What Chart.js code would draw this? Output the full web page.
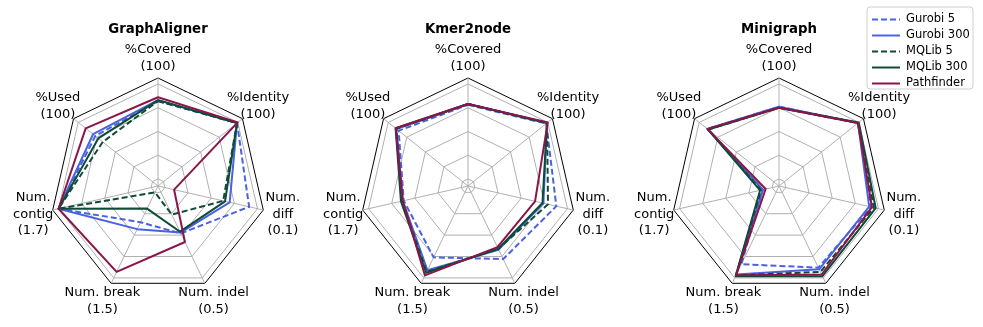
<!DOCTYPE html>
<html>
<head>
<meta charset="utf-8">
<script src="https://cdn.jsdelivr.net/npm/chart.js@4.4.1/dist/chart.umd.min.js"></script>
<style>
html,body{margin:0;padding:0;background:#fff;width:983px;height:327px;overflow:hidden;}
canvas{position:absolute;top:0;}
</style>
</head>
<body>
<canvas id="c1" width="310" height="327" style="left:3px"></canvas>
<canvas id="c2" width="310" height="327" style="left:313px"></canvas>
<canvas id="c3" width="359" height="327" style="left:624px"></canvas>
<script>
// ---- data ----
const axisLabels = [["%Covered","(100)"],["%Identity","(100)"],["Num.","diff","(0.1)"],["Num. indel","(0.5)"],["Num. break","(1.5)"],["Num.","contig","(1.7)"],["%Used","(100)"]];
const chartTitles = ["GraphAligner","Kmer2node","Minigraph"];
const seriesNames = ["Gurobi 5","Gurobi 300","MQLib 5","MQLib 300","Pathfinder"];
const ringTicks = [0, 0.25, 0.5, 0.75, 1.0];

const graphAlignerGurobi5   = [0.82, 0.99, 0.91, 0.48, 0.35, 1.00, 0.77];
const graphAlignerGurobi300 = [0.83, 0.99, 0.70, 0.47, 0.43, 1.00, 0.80];
const graphAlignerMQLib5    = [0.82, 0.99, 0.63, 0.26, 0.00, 1.00, 0.67];
const graphAlignerMQLib300  = [0.83, 0.99, 0.65, 0.46, 0.19, 1.00, 0.73];
const graphAlignerPathfinder= [0.86, 1.00, 0.10, 0.58, 0.93, 1.00, 0.90];

const kmer2nodeGurobi5   = [0.78, 0.98, 0.88, 0.78, 0.76, 0.62, 0.86];
const kmer2nodeGurobi300 = [0.79, 0.99, 0.74, 0.67, 0.91, 0.63, 0.89];
const kmer2nodeMQLib5    = [0.79, 0.99, 0.79, 0.66, 0.93, 0.64, 0.89];
const kmer2nodeMQLib300  = [0.79, 0.99, 0.73, 0.66, 0.94, 0.65, 0.90];
const kmer2nodePathfinder= [0.79, 1.00, 0.65, 0.64, 0.97, 0.63, 0.90];

const minigraphGurobi5   = [0.76, 0.99, 0.92, 0.88, 0.84, 0.10, 0.89];
const minigraphGurobi300 = [0.76, 0.99, 0.90, 0.90, 0.96, 0.10, 0.89];
const minigraphMQLib5    = [0.75, 0.99, 0.95, 0.93, 0.97, 0.12, 0.88];
const minigraphMQLib300  = [0.75, 1.00, 0.97, 0.98, 0.98, 0.13, 0.88];
const minigraphPathfinder= [0.75, 0.99, 0.93, 0.96, 0.97, 0.07, 0.89];

// ---- styles ----
const BLUE = '#4b62e0', GREEN = '#0e4b38', RED = '#8b1549';
const seriesStyle = [
  {color: BLUE, dash: [6, 3]},
  {color: BLUE, dash: []},
  {color: GREEN, dash: [6, 3]},
  {color: GREEN, dash: []},
  {color: RED, dash: []}
];
const R_MIN = -0.074, R_MAX = 1.063;
const FONT = '"DejaVu Sans", Verdana, sans-serif';

function makeDatasets(arrs) {
  return arrs.map((d, i) => ({
    label: seriesNames[i],
    data: d,
    borderColor: seriesStyle[i].color,
    borderDash: seriesStyle[i].dash,
    borderWidth: 2,
    backgroundColor: 'rgba(0,0,0,0)',
    fill: false,
    pointRadius: 0,
    borderJoinStyle: 'round',
    order: 5 - i
  }));
}

const labelsPlugin = {
  id: 'customLabels',
  afterDraw(chart, args, opts) {
    const ctx = chart.ctx;
    const s = chart.scales.r;
    ctx.save();
    ctx.fillStyle = '#000';
    ctx.textAlign = 'center';
    ctx.textBaseline = 'middle';
    ctx.font = '13px ' + FONT;
    const dist = s.drawingArea + 20;
    const lh = 16.5;
    axisLabels.forEach((lines, i) => {
      const p = s.getPointPosition(i, dist);
      const n = lines.length;
      lines.forEach((t, k) => {
        ctx.fillText(t, p.x, p.y + (k - (n - 1) / 2) * lh);
      });
    });
    ctx.font = 'bold 13.3px ' + FONT;
    ctx.fillText(opts.title, s.xCenter, 30);
    if (opts.legend) {
      const lx = opts.legendX, ly = 7, lw = 106, lhBox = 82;
      ctx.beginPath();
      const r = 3;
      ctx.moveTo(lx + r, ly);
      ctx.arcTo(lx + lw, ly, lx + lw, ly + lhBox, r);
      ctx.arcTo(lx + lw, ly + lhBox, lx, ly + lhBox, r);
      ctx.arcTo(lx, ly + lhBox, lx, ly, r);
      ctx.arcTo(lx, ly, lx + lw, ly, r);
      ctx.closePath();
      ctx.fillStyle = 'rgba(255,255,255,0.8)';
      ctx.fill();
      ctx.strokeStyle = '#d0d0d0';
      ctx.lineWidth = 1;
      ctx.stroke();
      ctx.font = '11.5px ' + FONT;
      ctx.textAlign = 'left';
      seriesNames.forEach((name, i) => {
        const y = 19.5 + i * 16;
        ctx.beginPath();
        ctx.setLineDash(seriesStyle[i].dash);
        ctx.strokeStyle = seriesStyle[i].color;
        ctx.lineWidth = 2;
        ctx.moveTo(lx + 5, y);
        ctx.lineTo(lx + 33, y);
        ctx.stroke();
        ctx.setLineDash([]);
        ctx.fillStyle = '#000';
        ctx.fillText(name, lx + 39, y);
      });
    }
    ctx.restore();
  }
};

function makeChart(id, title, arrs, rightPad, legend) {
  return new Chart(document.getElementById(id), {
    type: 'radar',
    data: {labels: axisLabels.map(l => l.join(' ')), datasets: makeDatasets(arrs)},
    plugins: [labelsPlugin],
    options: {
      responsive: false,
      animation: false,
      events: [],
      layout: {padding: {left: 47, right: rightPad, top: 78, bottom: 33}},
      plugins: {
        legend: {display: false},
        tooltip: {enabled: false},
        customLabels: {title: title, legend: legend, legendX: 243}
      },
      elements: {line: {tension: 0}},
      scales: {
        r: {
          min: R_MIN,
          max: R_MAX,
          startAngle: 0,
          ticks: {display: false},
          afterBuildTicks: (sc) => {
            sc.ticks = ringTicks.concat([R_MAX]).map(v => ({value: v}));
          },
          grid: {
            color: (c) => (c.tick && c.tick.value > 1.01) ? '#000000' : '#b0b0b0',
            lineWidth: 1
          },
          angleLines: {color: '#b0b0b0', lineWidth: 1},
          pointLabels: {display: false}
        }
      }
    }
  });
}

makeChart('c1', chartTitles[0], [graphAlignerGurobi5, graphAlignerGurobi300, graphAlignerMQLib5, graphAlignerMQLib300, graphAlignerPathfinder], 47, false);
makeChart('c2', chartTitles[1], [kmer2nodeGurobi5, kmer2nodeGurobi300, kmer2nodeMQLib5, kmer2nodeMQLib300, kmer2nodePathfinder], 47, false);
makeChart('c3', chartTitles[2], [minigraphGurobi5, minigraphGurobi300, minigraphMQLib5, minigraphMQLib300, minigraphPathfinder], 96, true);
</script>
</body>
</html>
